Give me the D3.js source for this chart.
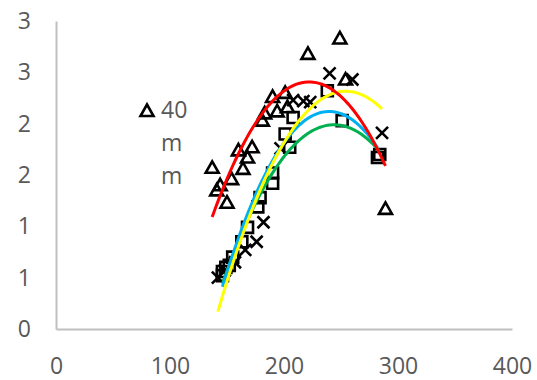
<!DOCTYPE html>
<html lang="en">
<head>
  <meta charset="UTF-8" />
  <script src="https://d3js.org/d3.v7.min.js"></script>
  <style>
    body { margin: 0; background: #fff; }
    text { font-family: "Open Sans", sans-serif; fill: #595959; }
  </style>
</head>
<body>
  <script>
    // --- data ---
    var triX = [137, 141, 144, 150, 154, 160, 164, 168, 172, 181, 183, 190, 194, 201, 203, 221, 249, 254, 289];
    var triY = [1.57, 1.35, 1.40, 1.23, 1.46, 1.74, 1.56, 1.67, 1.77, 2.03, 2.10, 2.26, 2.12, 2.30, 2.16, 2.68, 2.83, 2.43, 1.17];

    var crossX = [142, 148, 157, 166, 176, 182, 197, 208, 217, 223, 240, 260, 286];
    var crossY = [0.50, 0.57, 0.65, 0.77, 0.85, 1.04, 1.76, 2.23, 2.22, 2.21, 2.49, 2.43, 1.91];

    var sqX = [146, 149, 155, 168, 177, 190, 201, 208, 238, 282];
    var sqY = [0.56, 0.60, 0.70, 0.99, 1.19, 1.42, 1.90, 2.06, 2.32, 1.67];

    var sq2X = [146, 152, 163, 179, 190, 205, 251, 284];
    var sq2Y = [0.52, 0.62, 0.85, 1.28, 1.52, 1.77, 2.03, 1.70];

    var xTicks = [0, 100, 200, 300, 400];
    var yTicks = [0, 0.5, 1, 1.5, 2, 2.5, 3];
    var legendLines = ["40", "m", "m"];

    var width = 537, height = 380;

    var x = d3.scaleLinear().domain([0, 400]).range([56, 512]);
    var y = d3.scaleLinear().domain([0, 3]).range([329, 21]);

    var svg = d3.select("body").append("svg")
      .attr("width", width)
      .attr("height", height);

    svg.append("rect").attr("width", width).attr("height", height).attr("fill", "#fff");

    // axes
    var xAxis = d3.axisBottom(x).tickValues(xTicks).tickSize(0).tickSizeOuter(0).tickPadding(29);
    var yAxis = d3.axisLeft(y).tickValues(yTicks).tickSize(0).tickSizeOuter(0).tickPadding(25)
      .tickFormat(d3.format(".0f"));

    var gx = svg.append("g").attr("transform", "translate(0,329)").call(xAxis);
    var gy = svg.append("g").attr("transform", "translate(56,0)").call(yAxis);
    [gx, gy].forEach(function (g) {
      g.select(".domain").attr("stroke", "#bfbfbf").attr("stroke-width", 2);
      g.selectAll("text").style("font-size", "23px").attr("fill", "#595959");
    });

    // series
    var series = [
      { xs: triX, ys: triY, marker: "tri", color: "#ff0000" },
      { xs: crossX, ys: crossY, marker: "cross", color: "#ffff00" },
      { xs: sqX, ys: sqY, marker: "sq", color: "#00b0f0" },
      { xs: sq2X, ys: sq2Y, marker: "sq", color: "#00b050" }
    ];

    var markerPath = {
      tri: "M0,-6.5L6.5,5L-6.5,5Z",
      sq: "M-5.5,-5.5H5.5V5.5H-5.5Z",
      cross: "M-6,-6L6,6M6,-6L-6,6"
    };

    series.forEach(function (s) {
      var pts = s.xs.map(function (v, i) { return [v, s.ys[i]]; });
      svg.append("g").selectAll("path").data(pts).enter().append("path")
        .attr("d", markerPath[s.marker])
        .attr("transform", function (d) { return "translate(" + x(d[0]) + "," + y(d[1]) + ")"; })
        .attr("fill", "none")
        .attr("stroke", "#000")
        .attr("stroke-width", 2.6);
    });

    // order-2 polynomial trendlines (least squares, like the spreadsheet does)
    function quadFit(xs, ys) {
      var n = xs.length, S = [0, 0, 0, 0, 0], T = [0, 0, 0];
      for (var i = 0; i < n; i++) {
        var p = 1;
        for (var k = 0; k < 5; k++) { S[k] += p; if (k < 3) T[k] += p * ys[i]; p *= xs[i]; }
      }
      var A = [[S[0], S[1], S[2], T[0]], [S[1], S[2], S[3], T[1]], [S[2], S[3], S[4], T[2]]];
      for (var c = 0; c < 3; c++) {
        for (var r = c + 1; r < 3; r++) {
          var f = A[r][c] / A[c][c];
          for (var j = c; j < 4; j++) A[r][j] -= f * A[c][j];
        }
      }
      var co = [0, 0, 0];
      for (var r2 = 2; r2 >= 0; r2--) {
        var sum = A[r2][3];
        for (var j2 = r2 + 1; j2 < 3; j2++) sum -= A[r2][j2] * co[j2];
        co[r2] = sum / A[r2][r2];
      }
      return co;
    }

    var line = d3.line().x(function (d) { return x(d[0]); }).y(function (d) { return y(d[1]); });

    [3, 2, 1, 0].forEach(function (idx) {
      var s = series[idx];
      var co = quadFit(s.xs, s.ys);
      var lo = d3.min(s.xs), hi = d3.max(s.xs);
      var pts = d3.range(0, 61).map(function (i) {
        var xv = lo + (hi - lo) * i / 60;
        return [xv, co[0] + co[1] * xv + co[2] * xv * xv];
      });
      svg.append("path").datum(pts)
        .attr("d", line)
        .attr("fill", "none")
        .attr("stroke", s.color)
        .attr("stroke-width", 3);
    });

    // legend (only the first entry is visible)
    var lg = svg.append("g").attr("transform", "translate(147,111)");
    lg.append("path").attr("d", markerPath.tri)
      .attr("fill", "none").attr("stroke", "#000").attr("stroke-width", 2.6);
    lg.selectAll("text").data(legendLines).enter().append("text")
      .attr("x", 14)
      .attr("y", function (d, i) { return 7 + i * 33; })
      .style("font-size", "23px")
      .text(function (d) { return d; });
  </script>
</body>
</html>
